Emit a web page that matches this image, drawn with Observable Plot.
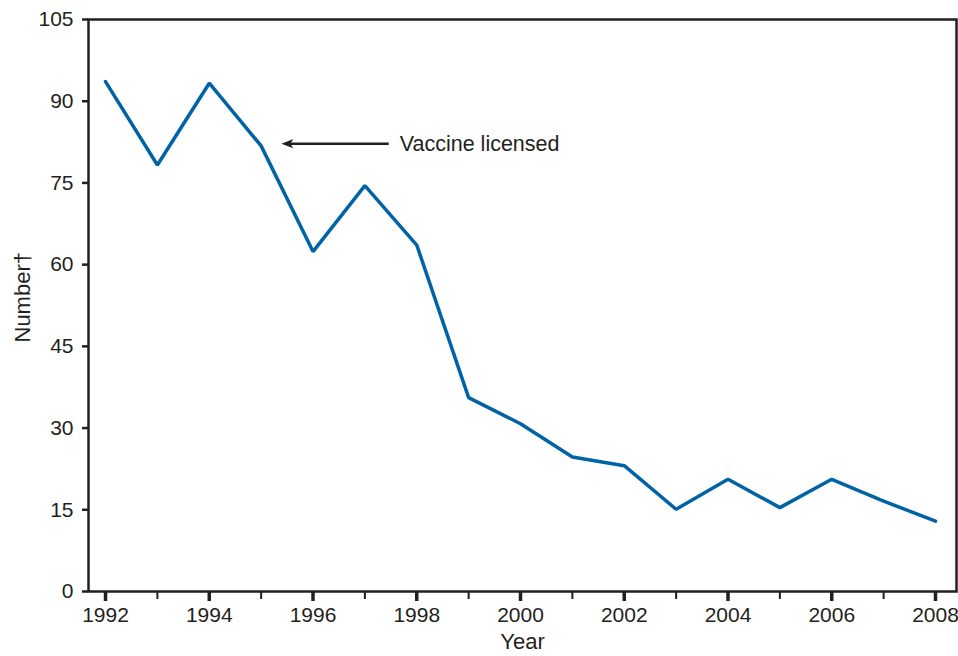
<!DOCTYPE html>
<html><head><meta charset="utf-8">
<script src="https://cdn.jsdelivr.net/npm/d3@7"></script>
<script src="https://cdn.jsdelivr.net/npm/@observablehq/plot@0.6"></script>
<style>html,body{margin:0;padding:0;background:#fff;}</style>
</head><body><div id="chart"></div>
<script>
const years = [1992,1993,1994,1995,1996,1997,1998,1999,2000,2001,2002,2003,2004,2005,2006,2007,2008];
const counts = [93.6,78.3,93.3,81.8,62.4,74.5,63.6,35.6,30.8,24.7,23.1,15.1,20.6,15.4,20.6,16.6,12.9];
const majorYearTicks = [1992,1994,1996,1998,2000,2002,2004,2006,2008];
const minorYearTicks = [1993,1995,1997,1999,2001,2003,2005,2007];
const yTicks = [0,15,30,45,60,75,90,105];
const xLabel = "Year";
const yLabel = "Number\u2020";
const annotationText = "Vaccine licensed";
const annotationValue = [82.2];      // height of the arrow
const annotationTip = [1995.39];     // year the arrow points to
const annotationTail = [1997.46];    // year the arrow starts

const data = years.map((year, i) => ({year, count: counts[i]}));
const arrow = [{x1: annotationTail[0], x2: annotationTip[0], y: annotationValue[0]}];

const ink = "#231f20";
const arrowHead = {
  draw(c) {
    c.moveTo(0, 0);
    c.lineTo(12, -4.6);
    c.lineTo(9, 0);
    c.lineTo(12, 4.6);
    c.closePath();
  }
};

const chart = Plot.plot({
  width: 958,
  height: 656,
  marginLeft: 88,
  marginRight: 2,
  marginTop: 19,
  marginBottom: 65,
  style: {fontFamily: "'Liberation Sans', Arial, Helvetica, sans-serif", fontSize: "21px", color: ink, background: "#fff"},
  x: {domain: [1991.672, 2008.405]},
  y: {domain: [0, 105]},
  marks: [
    Plot.axisY({ticks: yTicks, tickSize: 6, tickPadding: 9, strokeWidth: 2.5, fontSize: 21, label: null}),
    Plot.axisX({ticks: minorYearTicks, tickSize: 8, strokeWidth: 2, tickFormat: () => "", label: null}),
    Plot.axisX({ticks: majorYearTicks, tickSize: 10, tickPadding: 6, strokeWidth: 3.5, fontSize: 21, tickFormat: d => String(d), label: null}),
    Plot.frame({stroke: ink, strokeWidth: 2.5}),
    Plot.line(data, {x: "year", y: "count", stroke: "#0063a6", strokeWidth: 3.5, strokeLinejoin: "miter"}),
    Plot.link(arrow, {x1: "x1", x2: d => d.x2 + 0.12, y1: "y", y2: "y", stroke: ink, strokeWidth: 2.5}),
    Plot.dot(arrow, {x: "x2", y: "y", symbol: arrowHead, fill: ink, stroke: "none", r: 6}),
    Plot.text([annotationText], {x: annotationTail, y: annotationValue, dx: 11, textAnchor: "start", lineAnchor: "middle", fontSize: 21.5, fill: ink}),
    Plot.text([xLabel], {frameAnchor: "bottom", dy: 50, lineAnchor: "middle", fontSize: 22, fill: ink}),
    Plot.text([yLabel], {frameAnchor: "left", dx: -66, dy: 37, rotate: -90, lineAnchor: "middle", fontSize: 22, fill: ink})
  ]
});
document.getElementById("chart").appendChild(chart);
</script>
</body></html>
